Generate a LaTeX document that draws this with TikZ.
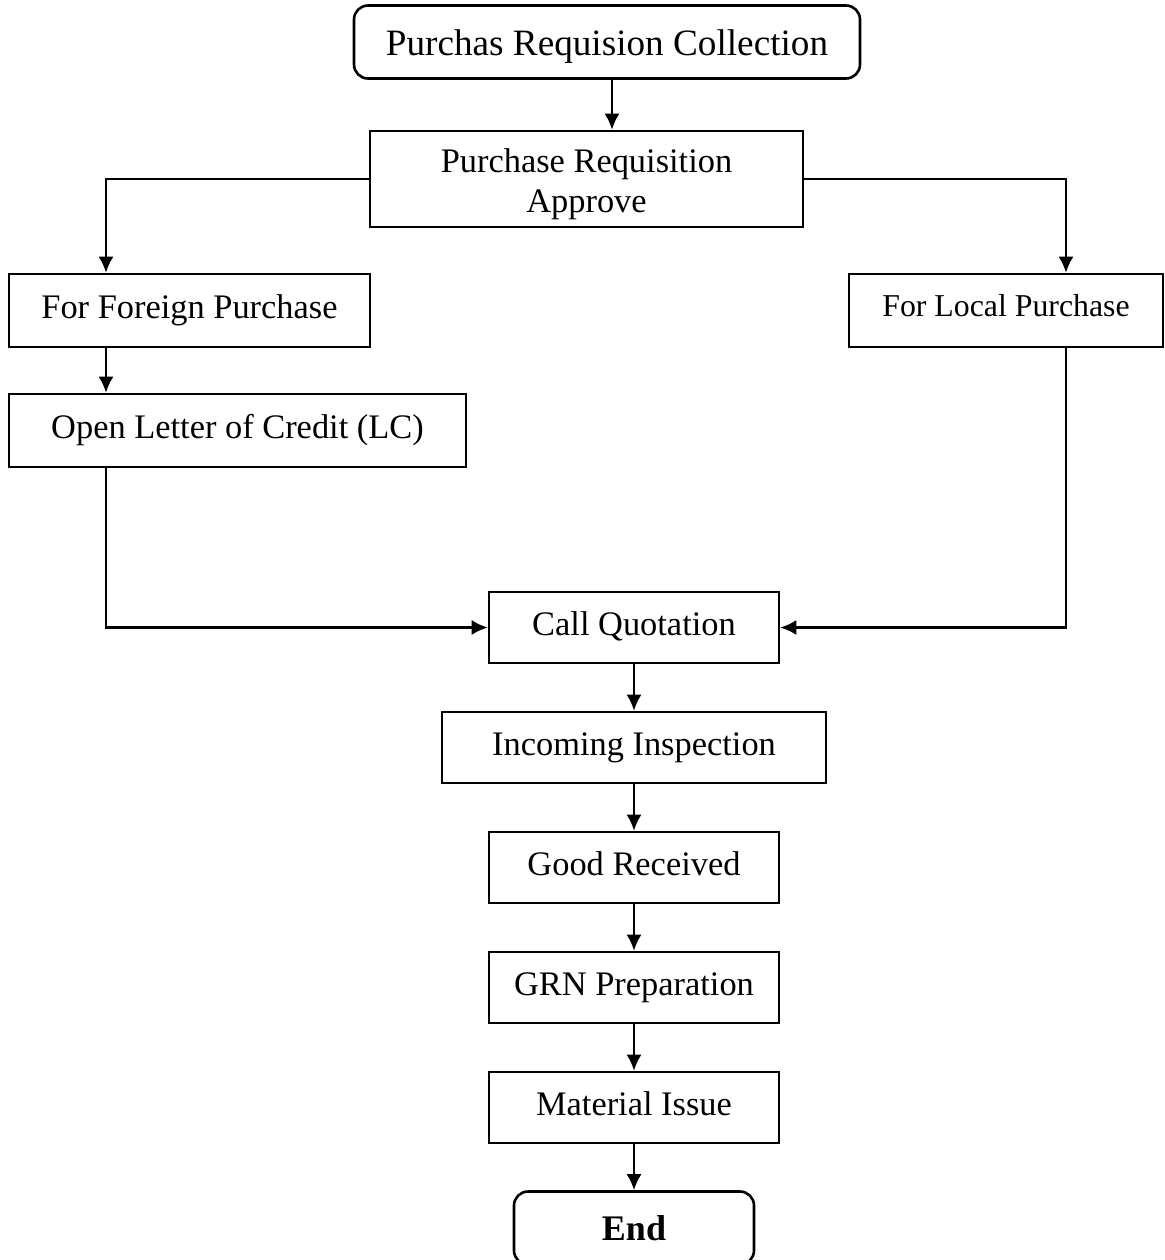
\documentclass[tikz,border=0pt]{standalone}
\usepackage{fontspec}
\setmainfont{Liberation Serif}
\usetikzlibrary{arrows.meta}
\begin{document}
\begin{tikzpicture}[x=0.5pt, y=-0.5pt]
    \tikzstyle{every node} = [font=\fontsize{17.2}{20}\selectfont]
    \tikzstyle{box} = [draw, line width=1.3pt, inner sep=0pt, minimum height=36.5pt]
    \tikzstyle{proc} = [box, text height=12pt, text depth=4.3pt]
    \tikzstyle{term} = [box, rounded corners=7pt]
    \tikzstyle{arrow} = [line width=1.1pt, -{Latex[length=8pt, width=7.5pt]}]
    \useasboundingbox (0,0) rectangle (1164,1260);
    % boxes
    \node[term, minimum width=253pt, text height=13pt, text depth=0pt, font=\fontsize{18.6}{22}\selectfont] (collect) at (607,42) {Purchas Requision Collection};
    \node[box, minimum width=216.5pt, minimum height=48pt, text height=33pt, text depth=0pt, align=center] (approve) at (586.5,179) {Purchase Requisition\\Approve};
    \node[proc, minimum width=180.5pt] (foreign) at (189.5,310.5) {For Foreign Purchase};
    \node[proc, minimum width=157pt, text height=11pt, text depth=5pt, font=\fontsize{15.9}{19}\selectfont] (local) at (1006,310.5) {For Local Purchase};
    \node[proc, minimum width=228.5pt] (lc) at (237.5,430.5) {Open Letter of Credit (LC)};
    \node[proc, minimum width=145pt, minimum height=35.5pt] (quote) at (634,627.5) {Call Quotation};
    \node[proc, minimum width=192pt, minimum height=35.5pt] (inspect) at (634,747.5) {Incoming Inspection};
    \node[proc, minimum width=145pt, minimum height=35.5pt] (received) at (634,867.5) {Good Received};
    \node[proc, minimum width=145pt, minimum height=35.5pt] (grn) at (634,987.5) {GRN Preparation};
    \node[proc, minimum width=145pt, minimum height=35.5pt] (issue) at (634,1107.5) {Material Issue};
    \node[term, minimum width=120pt, font=\fontsize{18}{22}\selectfont\bfseries] (end) at (634,1228) {End};
    % branch points
    \coordinate (ca) at (612,0);
    \coordinate (fl) at (106,0);
    \coordinate (fr) at (1066,0);
    % connectors
    \draw[arrow] (ca |- collect.south) -- (ca |- approve.north);
    \draw[arrow] (approve.west) -| (fl |- foreign.north);
    \draw[arrow] (approve.east) -| (fr |- local.north);
    \draw[arrow] (fl |- foreign.south) -- (fl |- lc.north);
    \draw[arrow] (fl |- lc.south) |- (quote.west);
    \draw[arrow] (fr |- local.south) |- (quote.east);
    \draw[arrow] (quote) -- (inspect);
    \draw[arrow] (inspect) -- (received);
    \draw[arrow] (received) -- (grn);
    \draw[arrow] (grn) -- (issue);
    \draw[arrow] (issue) -- (end);
\end{tikzpicture}
\end{document}
